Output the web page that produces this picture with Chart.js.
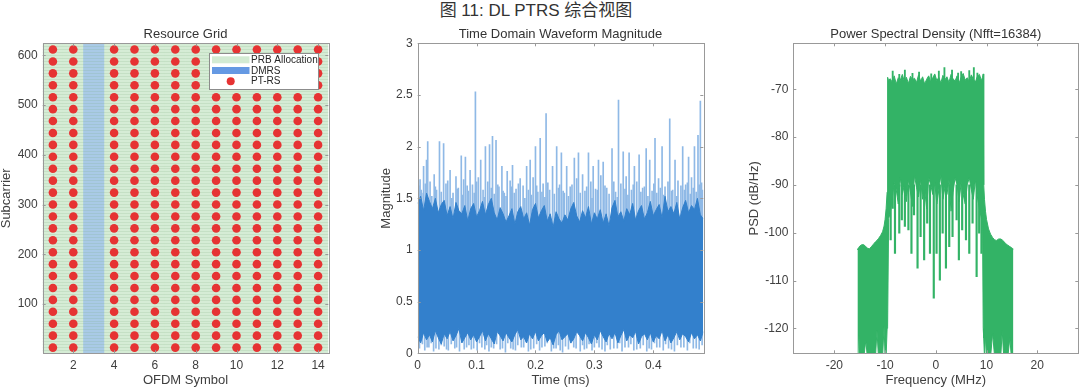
<!DOCTYPE html>
<html>
<head>
<meta charset="utf-8">
<script src="https://cdn.jsdelivr.net/npm/chart.js@4.4.1/dist/chart.umd.min.js"></script>
<style>
html, body { margin: 0; padding: 0; background: #fff; }
#page { position: relative; width: 1080px; height: 389px; overflow: hidden; }
#figTitle { position: absolute; left: -4px; top: 1px; width: 1080px; text-align: center; font-size: 17px; line-height: 20px; color: #333; font-family: "Liberation Sans", "Noto Sans CJK SC", sans-serif; }
.panel { position: absolute; top: 20px; height: 369px; }
</style>
</head>
<body>
<div id="page">
  <div id="figTitle">图 11: DL PTRS 综合视图</div>
  <div class="panel" style="left:0px;width:345px"><canvas id="gridChart"></canvas></div>
  <div class="panel" style="left:360px;width:350px"><canvas id="waveChart"></canvas></div>
  <div class="panel" style="left:730px;width:350px"><canvas id="psdChart"></canvas></div>
</div>
<script>
// ---------- resource grid ----------
var ofdmSymbols = [1, 2, 3, 4, 5, 6, 7, 8, 9, 10, 11, 12, 13, 14]
var dmrsSymbols = [3]
var ptrsSymbols = [1, 2, 4, 5, 6, 7, 8, 9, 10, 11, 12, 13, 14]
var ptrsSubcarriers = [12, 36, 60, 84, 108, 132, 156, 180, 204, 228, 252, 276, 300,
    324, 348, 372, 396, 420, 444, 468, 492, 516, 540, 564, 588, 612]
var nSubcarriers = 624
var gridXTicks = [2, 4, 6, 8, 10, 12, 14]
var gridYTicks = [100, 200, 300, 400, 500, 600]

// ---------- time domain (envelope per 0.005 ms bin, spikes) ----------
var waveTime = [0.000, 0.005, 0.010, 0.015, 0.020, 0.025, 0.030, 0.035, 0.040, 0.045,
    0.050, 0.055, 0.060, 0.065, 0.070, 0.075, 0.080, 0.085, 0.090, 0.095,
    0.100, 0.105, 0.110, 0.115, 0.120, 0.125, 0.130, 0.135, 0.140, 0.145,
    0.150, 0.155, 0.160, 0.165, 0.170, 0.175, 0.180, 0.185, 0.190, 0.195,
    0.200, 0.205, 0.210, 0.215, 0.220, 0.225, 0.230, 0.235, 0.240, 0.245,
    0.250, 0.255, 0.260, 0.265, 0.270, 0.275, 0.280, 0.285, 0.290, 0.295,
    0.300, 0.305, 0.310, 0.315, 0.320, 0.325, 0.330, 0.335, 0.340, 0.345,
    0.350, 0.355, 0.360, 0.365, 0.370, 0.375, 0.380, 0.385, 0.390, 0.395,
    0.400, 0.405, 0.410, 0.415, 0.420, 0.425, 0.430, 0.435, 0.440, 0.445,
    0.450, 0.455, 0.460, 0.465, 0.470, 0.475, 0.480, 0.485]
var waveHigh = [1.45, 1.52, 1.38, 1.55, 1.47, 1.40, 1.50, 1.36, 1.44, 1.48,
    1.33, 1.42, 1.30, 1.46, 1.38, 1.35, 1.43, 1.28, 1.40, 1.45,
    1.32, 1.38, 1.47, 1.34, 1.44, 1.50, 1.36, 1.29, 1.41, 1.35,
    1.27, 1.33, 1.40, 1.25, 1.37, 1.42, 1.30, 1.36, 1.24, 1.39,
    1.45, 1.31, 1.38, 1.43, 1.28, 1.35, 1.22, 1.37, 1.30, 1.26,
    1.34, 1.29, 1.40, 1.46, 1.33, 1.27, 1.38, 1.31, 1.42, 1.25,
    1.36, 1.30, 1.39, 1.26, 1.35, 1.23, 1.41, 1.48, 1.32, 1.37,
    1.28, 1.40, 1.34, 1.45, 1.29, 1.38, 1.43, 1.30, 1.36, 1.47,
    1.33, 1.39, 1.44, 1.31, 1.52, 1.37, 1.42, 1.35, 1.46, 1.30,
    1.41, 1.48, 1.36, 1.43, 1.39, 1.50, 1.34, 1.30]
var waveLow = [0.16, 0.10, 0.20, 0.13, 0.18, 0.11, 0.22, 0.15, 0.09, 0.19,
    0.14, 0.21, 0.12, 0.17, 0.24, 0.10, 0.15, 0.20, 0.13, 0.18,
    0.11, 0.16, 0.22, 0.12, 0.19, 0.14, 0.09, 0.21, 0.17, 0.12,
    0.20, 0.15, 0.11, 0.18, 0.23, 0.13, 0.16, 0.10, 0.19, 0.14,
    0.21, 0.12, 0.17, 0.20, 0.11, 0.15, 0.08, 0.18, 0.22, 0.13,
    0.16, 0.19, 0.10, 0.14, 0.21, 0.17, 0.12, 0.20, 0.15, 0.09,
    0.18, 0.13, 0.22, 0.16, 0.11, 0.19, 0.14, 0.20, 0.10, 0.17,
    0.23, 0.12, 0.18, 0.15, 0.21, 0.09, 0.16, 0.19, 0.13, 0.20,
    0.11, 0.17, 0.14, 0.22, 0.12, 0.18, 0.10, 0.15, 0.21, 0.13,
    0.19, 0.16, 0.11, 0.20, 0.14, 0.18, 0.12, 0.21]
// tall isolated peaks
var spikeTime = [0.002, 0.004, 0.007, 0.010, 0.015, 0.017, 0.021, 0.028, 0.032, 0.037,
    0.044, 0.048, 0.055, 0.060, 0.065, 0.069, 0.074, 0.078, 0.081, 0.086,
    0.089, 0.093, 0.098, 0.103, 0.107, 0.111, 0.115, 0.119, 0.122, 0.127,
    0.133, 0.138, 0.143, 0.147, 0.152, 0.157, 0.161, 0.167, 0.174, 0.179,
    0.185, 0.191, 0.196, 0.200, 0.204, 0.208, 0.213, 0.218, 0.224, 0.229,
    0.236, 0.241, 0.244, 0.249, 0.253, 0.259, 0.266, 0.270, 0.273, 0.280,
    0.284, 0.290, 0.294, 0.298, 0.302, 0.307, 0.311, 0.315, 0.321, 0.330,
    0.336, 0.341, 0.345, 0.349, 0.354, 0.359, 0.363, 0.368, 0.372, 0.376,
    0.382, 0.388, 0.394, 0.398, 0.403, 0.409, 0.415, 0.420, 0.428, 0.433,
    0.437, 0.442, 0.450, 0.455, 0.460, 0.465, 0.470, 0.476, 0.480, 0.482]
var spikeTop = [1.62, 1.68, 1.55, 1.81, 1.87, 2.05, 1.66, 1.73, 1.58, 2.05,
    2.03, 1.64, 1.77, 1.55, 1.71, 1.60, 1.91, 1.68, 1.90, 1.57,
    1.77, 1.63, 2.53, 1.70, 1.87, 1.58, 2.00, 1.66, 2.02, 2.10,
    2.06, 1.61, 1.81, 1.55, 1.76, 1.67, 1.82, 1.59, 1.69, 1.62,
    1.81, 1.87, 1.70, 2.00, 1.56, 2.08, 1.64, 2.32, 1.58, 1.81,
    2.00, 1.63, 1.94, 1.55, 1.81, 1.61, 1.89, 1.69, 1.94, 1.73,
    1.57, 1.94, 1.66, 1.81, 1.59, 1.87, 1.72, 1.85, 1.60, 1.98,
    1.56, 2.45, 1.64, 1.95, 1.71, 1.94, 1.58, 1.81, 1.66, 1.92,
    1.60, 1.98, 1.87, 1.57, 2.08, 1.69, 2.00, 1.61, 2.27, 1.58,
    1.87, 1.67, 2.00, 1.63, 1.90, 1.70, 2.00, 2.11, 2.44, 1.65]
// shorter peaks just above the dense band
var shortSpikeTime = [0.006, 0.013, 0.024, 0.030, 0.040, 0.051, 0.058, 0.067, 0.076, 0.084,
    0.096, 0.100, 0.113, 0.125, 0.130, 0.136, 0.145, 0.150, 0.159, 0.164,
    0.171, 0.182, 0.188, 0.193, 0.202, 0.211, 0.216, 0.221, 0.232, 0.239,
    0.247, 0.256, 0.262, 0.276, 0.287, 0.296, 0.305, 0.318, 0.325, 0.333,
    0.339, 0.352, 0.357, 0.366, 0.379, 0.385, 0.391, 0.401, 0.406, 0.412,
    0.418, 0.425, 0.431, 0.440, 0.447, 0.453, 0.458, 0.463, 0.468, 0.473,
    0.478, 0.484]
var shortSpikeTop = [1.58, 1.64, 1.52, 1.61, 1.56, 1.67, 1.50, 1.59, 1.53, 1.62,
    1.55, 1.66, 1.51, 1.60, 1.54, 1.63, 1.57, 1.52, 1.61, 1.55,
    1.64, 1.50, 1.58, 1.53, 1.62, 1.56, 1.51, 1.65, 1.54, 1.60,
    1.57, 1.52, 1.63, 1.55, 1.61, 1.50, 1.58, 1.62, 1.54, 1.66,
    1.51, 1.59, 1.53, 1.63, 1.56, 1.61, 1.52, 1.64, 1.55, 1.60,
    1.53, 1.66, 1.57, 1.52, 1.62, 1.58, 1.65, 1.54, 1.60, 1.56,
    1.63, 1.58]
// dips below the dense band
var dipTime = [0.003, 0.012, 0.019, 0.027, 0.036, 0.045, 0.052, 0.063, 0.071, 0.083,
    0.091, 0.101, 0.109, 0.121, 0.129, 0.140, 0.149, 0.158, 0.166, 0.176,
    0.188, 0.197, 0.207, 0.216, 0.227, 0.235, 0.246, 0.256, 0.265, 0.276,
    0.287, 0.296, 0.308, 0.318, 0.327, 0.339, 0.347, 0.358, 0.367, 0.378,
    0.389, 0.397, 0.406, 0.417, 0.426, 0.436, 0.447, 0.458, 0.468, 0.478,
    0.008, 0.016, 0.023, 0.031, 0.040, 0.049, 0.057, 0.066, 0.075, 0.079,
    0.087, 0.095, 0.105, 0.114, 0.117, 0.125, 0.134, 0.144, 0.153, 0.162,
    0.170, 0.180, 0.184, 0.192, 0.202, 0.211, 0.220, 0.231, 0.239, 0.242,
    0.251, 0.260, 0.269, 0.280, 0.283, 0.291, 0.300, 0.304, 0.313, 0.322,
    0.333, 0.343, 0.352, 0.362, 0.372, 0.383, 0.393, 0.402, 0.411, 0.421,
    0.431, 0.441, 0.452, 0.462, 0.473, 0.483]
var dipBottom = [0.05, 0.03, 0.06, 0.02, 0.04, 0.07, 0.03, 0.05, 0.02, 0.06,
    0.04, 0.03, 0.06, 0.02, 0.05, 0.04, 0.01, 0.05, 0.03, 0.06,
    0.02, 0.05, 0.03, 0.07, 0.02, 0.05, 0.01, 0.04, 0.06, 0.02,
    0.05, 0.03, 0.06, 0.02, 0.04, 0.05, 0.02, 0.06, 0.03, 0.05,
    0.02, 0.04, 0.06, 0.03, 0.05, 0.02, 0.06, 0.03, 0.05, 0.04,
    0.09, 0.06, 0.10, 0.05, 0.08, 0.04, 0.09, 0.06, 0.11, 0.04,
    0.08, 0.05, 0.10, 0.04, 0.08, 0.06, 0.09, 0.05, 0.10, 0.04,
    0.08, 0.06, 0.11, 0.04, 0.09, 0.06, 0.10, 0.05, 0.08, 0.03,
    0.07, 0.10, 0.05, 0.08, 0.04, 0.09, 0.06, 0.10, 0.04, 0.08,
    0.05, 0.10, 0.06, 0.09, 0.04, 0.08, 0.05, 0.10, 0.06, 0.09,
    0.04, 0.08, 0.06, 0.10, 0.05, 0.08]
var waveXTicks = [0, 0.1, 0.2, 0.3, 0.4]
var waveYTicks = [0, 0.5, 1, 1.5, 2, 2.5, 3]

// ---------- power spectral density (envelope, spikes) ----------
var psdFreq = [-15.45, -15.30, -15.15, -15.00, -14.60, -14.20, -13.80, -13.50, -13.10, -12.70,
    -12.30, -11.90, -11.60, -11.30, -10.90, -10.50, -10.20, -10.00, -9.80, -9.60, -9.50,
    -9.30,
    -9.0, -8.6, -8.2, -7.8, -7.4, -7.0, -6.6, -6.2, -5.8, -5.4,
    -5.0, -4.6, -4.2, -3.8, -3.4, -3.0, -2.6, -2.2, -1.8, -1.4,
    -1.0, -0.6, -0.2, 0.2, 0.6, 1.0, 1.4, 1.8, 2.2, 2.6,
    3.0, 3.4, 3.8, 4.2, 4.6, 5.0, 5.4, 5.8, 6.2, 6.6,
    7.0, 7.4, 7.8, 8.2, 8.6, 9.0,
    9.20, 9.35,
    9.45, 9.60, 9.80, 10.00, 10.40, 10.80, 11.20, 11.60, 12.00, 12.40,
    12.80, 13.10, 13.40, 13.80, 14.20, 14.60, 14.90, 15.15, 15.30]
var psdTop = [-103.6, -103.2, -103.0, -102.8, -102.5, -102.5, -102.9, -103.2, -103.4, -102.9,
    -102.4, -101.9, -101.6, -101.2, -100.6, -99.8, -98.6, -97.2, -95.0, -91.5, -67.5,
    -68.2,
    -67.8, -68.5, -67.2, -68.9, -67.6, -68.1, -66.9, -68.4, -67.5, -68.8,
    -67.3, -68.0, -67.7, -68.6, -67.0, -68.3, -67.4, -68.9, -67.9, -67.2,
    -68.5, -67.6, -66.8, -68.2, -67.5, -68.7, -67.1, -68.0, -67.4, -68.6,
    -66.9, -67.8, -68.3, -67.2, -68.7, -67.5, -66.7, -68.1, -67.6, -68.4,
    -67.0, -67.9, -68.5, -67.3, -66.9, -68.2,
    -67.5, -66.8,
    -90.0, -93.0, -95.5, -97.2, -99.2, -100.3, -101.0, -101.5, -101.6, -101.3,
    -101.3, -101.5, -101.8, -102.3, -102.6, -102.9, -103.1, -103.3, -103.4]
var psdBottom = [-126, -126, -121.5, -126, -126, -126, -122.5, -126, -126, -126,
    -126, -126, -120.5, -126, -126, -126, -119.5, -126, -126, -120, -119.5,
    -97,
    -96, -93, -89.5, -91, -94, -88.5, -92, -90, -93.5, -89,
    -91.5, -94.5, -88, -90.5, -92.5, -89, -93, -91, -95, -88.5,
    -90, -92, -89.5, -94, -91, -88, -93, -90.5, -92, -89,
    -95.5, -91.5, -88.5, -90, -93.5, -89.5, -92, -94, -90, -88.5,
    -91, -93, -89, -92.5, -95, -97,
    -96, -120,
    -122, -126, -121.5, -126, -126, -126, -121, -126, -126, -126,
    -126, -120.5, -126, -126, -126, -122, -126, -126, -126]
var psdPeakFreq = [-8.5, -7.2, -6.1, -4.6, -3.3, -0.9, 0.6, 1.7, 3.2, 4.4, 5.0, 6.6, 7.5, 8.2]
var psdPeakTop = [-66.2, -66.9, -66.0, -66.7, -66.4, -66.8, -66.2, -65.5, -66.0, -66.6, -66.3, -66.1, -65.5, -66.6]
var psdDipFreq = [-8.9, -8.5, -8.05, -7.2, -6.7, -6.1, -5.4, -4.8, -4.3, -3.6,
    -3.0, -2.3, -1.7, -1.15, -0.4, 0.15, 0.8, 1.35, 2.0, 2.65,
    3.3, 4.1, 4.55, 5.2, 5.95, 6.6, 7.25, 8.05, 8.55, 9.0]
var psdDipBottom = [-101.5, -94.9, -104.3, -100.1, -97.3, -98.7, -99.4, -104.3, -96.3, -107.4,
    -100.8, -105.7, -98.0, -104.3, -113.7, -104.3, -109.9, -100.1, -107.4, -102.9,
    -100.8, -97.3, -105.7, -99.4, -101.5, -104.3, -98.0, -109.2, -100.1, -104.3]
var psdXTicks = [-20, -10, 0, 10, 20]
var psdYTicks = [-120, -110, -100, -90, -80, -70]

var tickFont = {family: 'Liberation Sans', size: 12}
var labelFont = {family: 'Liberation Sans', size: 13, lineHeight: 1}
var textColor = '#404040'
var blue = '#3380cc'
var lightBlue = '#8fb9e6'
var green = '#33b366'

function fixedTicks(list){
    return function(scale){
        scale.ticks = list.map(function(v){ return {value: v} })
    }
}

function points(xs, ys){
    return xs.map(function(x, i){ return {x: x, y: ys[i]} })
}

function ranges(xs, ys, base){
    return xs.map(function(x, i){ return {x: x, y: [base, ys[i]]} })
}

// axes box with inward ticks on all sides, like the original figure
var matlabBox = {
    id: 'matlabBox',
    afterDatasetsDraw: function(chart){
        var ctx = chart.ctx
        var a = chart.chartArea
        var xs = chart.scales.x
        var ys = chart.scales.y
        ctx.save()
        ctx.strokeStyle = '#999'
        ctx.lineWidth = 1
        ctx.beginPath()
        xs.ticks.forEach(function(t){
            var px = Math.round(xs.getPixelForValue(t.value)) + 0.5
            ctx.moveTo(px, a.bottom); ctx.lineTo(px, a.bottom - 3)
            ctx.moveTo(px, a.top); ctx.lineTo(px, a.top + 3)
        })
        ys.ticks.forEach(function(t){
            var py = Math.round(ys.getPixelForValue(t.value)) + 0.5
            ctx.moveTo(a.left, py); ctx.lineTo(a.left + 3, py)
            ctx.moveTo(a.right, py); ctx.lineTo(a.right - 3, py)
        })
        ctx.stroke()
        ctx.strokeRect(Math.round(a.left) + 0.5, Math.round(a.top) + 0.5,
            Math.round(a.right - a.left), Math.round(a.bottom - a.top))
        ctx.restore()
    }
}

// faint row stripes over the grid image
var gridStripes = {
    id: 'gridStripes',
    afterDatasetDraw: function(chart, args){
        if(args.index !== 1) return
        var ctx = chart.ctx
        var a = chart.chartArea
        var ys = chart.scales.y
        ctx.save()
        ctx.strokeStyle = 'rgba(120, 165, 120, 0.17)'
        ctx.lineWidth = 1
        ctx.beginPath()
        for(var sc = 6.5; sc < nSubcarriers; sc += 6){
            var py = Math.round(ys.getPixelForValue(sc)) + 0.5
            ctx.moveTo(a.left, py); ctx.lineTo(a.right, py)
        }
        ctx.stroke()
        ctx.restore()
    }
}

// legend box drawn on top of the marks
var gridLegend = {
    id: 'gridLegend',
    afterDatasetsDraw: function(chart){
        var ctx = chart.ctx
        var a = chart.chartArea
        var w = 109, h = 36
        var x0 = Math.round(a.right - 10 - w), y0 = Math.round(a.top + 10)
        ctx.save()
        ctx.fillStyle = '#fff'
        ctx.fillRect(x0, y0, w, h)
        ctx.strokeStyle = '#8c8c8c'
        ctx.lineWidth = 1
        ctx.strokeRect(x0 + 0.5, y0 + 0.5, w, h)
        ctx.font = '10px "Liberation Sans"'
        ctx.textBaseline = 'middle'
        chart.data.datasets.forEach(function(ds, i){
            var cy = y0 + 6.8 + i * 10.7
            if(ds.type === 'bar'){
                ctx.fillStyle = ds.legendColor
                ctx.fillRect(x0 + 3, cy - 3.5, 37.5, 7)
            }else{
                ctx.fillStyle = ds.backgroundColor
                ctx.beginPath()
                ctx.arc(x0 + 21.7, cy, 4, 0, Math.PI * 2)
                ctx.fill()
            }
            ctx.fillStyle = '#262626'
            ctx.fillText(ds.label, x0 + 42, cy + 0.5)
        })
        ctx.restore()
    }
}

function baseOptions(opt){
    return {
        responsive: true,
        maintainAspectRatio: false,
        animation: false,
        events: [],
        layout: {padding: {right: opt.padRight}},
        plugins: {
            legend: {display: false},
            tooltip: {enabled: false},
            title: {
                display: true,
                text: opt.title,
                color: '#333',
                fullSize: false,
                font: {family: 'Liberation Sans', size: 13, weight: 'normal', lineHeight: 1.2},
                padding: {top: 6.5, bottom: 1.2}
            }
        },
        scales: {
            x: {
                type: 'linear',
                min: opt.xMin,
                max: opt.xMax,
                offset: false,
                grid: {display: false, drawTicks: false},
                border: {display: false},
                afterBuildTicks: fixedTicks(opt.xTicks),
                afterFit: function(s){ s.height = 35.7 },
                ticks: {font: tickFont, color: textColor, padding: 5, maxRotation: 0,
                    callback: function(v){ return String(v) }},
                title: {display: true, text: opt.xTitle, color: textColor, font: labelFont, padding: {top: 0, bottom: 2.5}}
            },
            y: {
                type: 'linear',
                min: opt.yMin,
                max: opt.yMax,
                grid: {display: false, drawTicks: false},
                border: {display: false},
                afterBuildTicks: fixedTicks(opt.yTicks),
                afterFit: function(s){ s.width = opt.yWidth },
                ticks: {font: tickFont, color: textColor, padding: 5,
                    callback: function(v){ return String(v) }},
                title: {display: true, text: opt.yTitle, color: textColor, font: labelFont, padding: {top: opt.yTitlePad, bottom: 0}}
            }
        }
    }
}

// panel 1
var ptrsPoints = []
ptrsSymbols.forEach(function(sym){
    ptrsSubcarriers.forEach(function(sc){ ptrsPoints.push({x: sym, y: sc}) })
})
new Chart(document.getElementById('gridChart'), {
    type: 'scatter',
    data: {
        datasets: [{
            type: 'bar',
            label: 'PRB Allocation',
            data: ofdmSymbols.map(function(s){ return {x: s, y: [0.5, nSubcarriers + 0.5]} }),
            backgroundColor: '#d5ecd5',
            legendColor: '#d3ebd3',
            borderWidth: 0,
            barPercentage: 1,
            categoryPercentage: 1,
            grouped: false,
            order: 3
        }, {
            type: 'bar',
            label: 'DMRS',
            data: dmrsSymbols.map(function(s){ return {x: s, y: [0.5, nSubcarriers + 0.5]} }),
            backgroundColor: '#a9cae6',
            legendColor: '#6599e3',
            borderWidth: 0,
            barPercentage: 1,
            categoryPercentage: 1,
            grouped: false,
            order: 2
        }, {
            type: 'scatter',
            label: 'PT-RS',
            data: ptrsPoints,
            backgroundColor: '#e63333',
            pointRadius: 4.3,
            pointBorderWidth: 0,
            order: 0
        }]
    },
    options: baseOptions({title: 'Resource Grid', padRight: 16.7, yWidth: 42.7, yTitlePad: 0,
        xMin: 0.5, xMax: 14.5, xTicks: gridXTicks, xTitle: 'OFDM Symbol',
        yMin: 0.5, yMax: nSubcarriers + 0.5, yTicks: gridYTicks, yTitle: 'Subcarrier'}),
    plugins: [gridStripes, matlabBox, gridLegend]
})

// panel 2
new Chart(document.getElementById('waveChart'), {
    type: 'line',
    data: {
        datasets: [{
            label: 'low',
            data: points(waveTime, waveLow),
            borderColor: blue,
            borderWidth: 1,
            pointRadius: 0,
            tension: 0,
            fill: false,
            order: 0
        }, {
            label: 'high',
            data: points(waveTime, waveHigh),
            borderColor: blue,
            backgroundColor: blue,
            borderWidth: 1,
            pointRadius: 0,
            tension: 0,
            fill: '-1',
            order: 0
        }, {
            type: 'bar',
            label: 'peaks',
            data: ranges(spikeTime, spikeTop, 1.1),
            backgroundColor: lightBlue,
            barThickness: 1,
            grouped: false,
            order: 5
        }, {
            type: 'bar',
            label: 'short peaks',
            data: ranges(shortSpikeTime, shortSpikeTop, 1.1),
            backgroundColor: lightBlue,
            barThickness: 1,
            grouped: false,
            order: 5
        }, {
            type: 'bar',
            label: 'dips',
            data: ranges(dipTime, dipBottom, 0.3),
            backgroundColor: lightBlue,
            barThickness: 1,
            grouped: false,
            order: 5
        }]
    },
    options: baseOptions({title: 'Time Domain Waveform Magnitude', padRight: 6.7, yWidth: 57.7, yTitlePad: 20.2,
        xMin: 0, xMax: 0.485, xTicks: waveXTicks, xTitle: 'Time (ms)',
        yMin: 0, yMax: 3, yTicks: waveYTicks, yTitle: 'Magnitude'}),
    plugins: [matlabBox]
})

// panel 3
new Chart(document.getElementById('psdChart'), {
    type: 'line',
    data: {
        datasets: [{
            label: 'floor',
            data: points(psdFreq, psdBottom),
            borderColor: green,
            borderWidth: 1,
            pointRadius: 0,
            tension: 0,
            fill: false,
            order: 0
        }, {
            label: 'psd',
            data: points(psdFreq, psdTop),
            borderColor: green,
            backgroundColor: green,
            borderWidth: 1,
            pointRadius: 0,
            tension: 0,
            fill: '-1',
            order: 0
        }, {
            type: 'bar',
            label: 'peaks',
            data: ranges(psdPeakFreq, psdPeakTop, -69),
            backgroundColor: green,
            barThickness: 1.2,
            grouped: false,
            order: 5
        }, {
            type: 'bar',
            label: 'dips',
            data: ranges(psdDipFreq, psdDipBottom, -90),
            backgroundColor: green,
            barThickness: 1.5,
            grouped: false,
            order: 5
        }]
    },
    options: baseOptions({title: 'Power Spectral Density (Nfft=16384)', padRight: 1.7, yWidth: 63.3, yTitlePad: 17.5,
        xMin: -28.1, xMax: 28.1, xTicks: psdXTicks, xTitle: 'Frequency (MHz)',
        yMin: -125.2, yMax: -60.4, yTicks: psdYTicks, yTitle: 'PSD (dB/Hz)'}),
    plugins: [matlabBox]
})
</script>
</body>
</html>
